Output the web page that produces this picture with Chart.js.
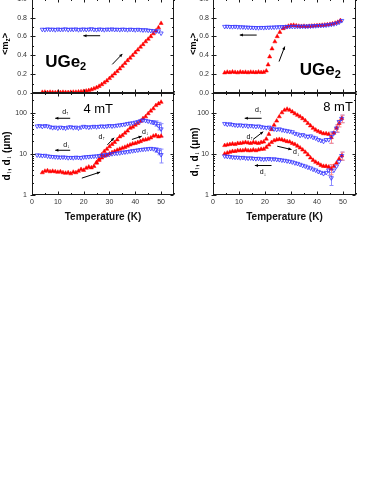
<!DOCTYPE html>
<html>
<head>
<meta charset="utf-8">
<script src="https://cdn.jsdelivr.net/npm/chart.js@4.4.1/dist/chart.umd.min.js"></script>
<style>
  body { margin: 0; background: #fff; }
  #wrap { position: relative; width: 383px; height: 495px; overflow: hidden; background: #fff; }
  canvas { position: absolute; }
</style>
</head>
<body>
<div id="wrap">
  <canvas id="mz4" width="182" height="108" style="left:0;top:-6px"></canvas>
  <canvas id="mz8" width="182" height="108" style="left:182px;top:-6px"></canvas>
  <canvas id="d4" width="182" height="144" style="left:0;top:86px"></canvas>
  <canvas id="d8" width="182" height="144" style="left:182px;top:86px"></canvas>
</div>
<script>
// <m_z> vs T and domain sizes d_up / d_down vs T, UGe2 at 4 mT (left) and 8 mT (right)

const tTicks = [0, 10, 20, 30, 40, 50]
const logTicks = [1, 10, 100]

// top left, 4 mT
const tMzCool4 = [4, 5, 6, 7, 8, 9, 10, 11, 12, 13, 14, 15, 16, 17, 18, 19, 20, 21, 22, 23, 24, 25, 26, 27, 28, 29, 30, 31, 32, 33, 34, 35, 36, 37, 38, 39, 40, 41, 42, 43, 44, 45, 46, 47, 48, 49, 50]
const mzCool4 = [0.675, 0.672, 0.678, 0.674, 0.676, 0.671, 0.677, 0.673, 0.675, 0.679, 0.672, 0.676, 0.674, 0.678, 0.671, 0.675, 0.677, 0.673, 0.676, 0.68, 0.674, 0.672, 0.677, 0.675, 0.671, 0.676, 0.674, 0.678, 0.673, 0.675, 0.672, 0.676, 0.674, 0.671, 0.675, 0.673, 0.67, 0.674, 0.671, 0.668, 0.67, 0.665, 0.662, 0.66, 0.655, 0.658, 0.635]
const tMzWarm4 = [4, 5, 6, 7, 8, 9, 10, 11, 12, 13, 14, 15, 16, 17, 18, 19, 20, 21, 22, 23, 24, 25, 26, 27, 28, 29, 30, 31, 32, 33, 34, 35, 36, 37, 38, 39, 40, 41, 42, 43, 44, 45, 46, 47, 48, 49, 50]
const mzWarm4 = [0.008, 0.01, 0.006, 0.009, 0.007, 0.005, 0.008, 0.006, 0.009, 0.007, 0.006, 0.008, 0.01, 0.009, 0.012, 0.014, 0.018, 0.022, 0.028, 0.036, 0.046, 0.058, 0.072, 0.09, 0.11, 0.13, 0.155, 0.18, 0.205, 0.23, 0.258, 0.285, 0.315, 0.345, 0.372, 0.4, 0.43, 0.458, 0.488, 0.515, 0.545, 0.572, 0.6, 0.63, 0.66, 0.695, 0.74]

// top right, 8 mT
const tMzCool8 = [4.5, 5.5, 6.5, 7.5, 8.5, 9.5, 10.5, 11.5, 12.5, 13.5, 14.5, 15.5, 16.5, 17.5, 18.5, 19.5, 20.5, 21.5, 22.5, 23.5, 24.5, 25.5, 26.5, 27.5, 28.5, 29.5, 30.5, 31.5, 32.5, 33.5, 34.5, 35.5, 36.5, 37.5, 38.5, 39.5, 40.5, 41.5, 42.5, 43.5, 44.5, 45.5, 46.5, 47.5, 48.5, 49.5]
const mzCool8 = [0.705, 0.706, 0.704, 0.703, 0.705, 0.702, 0.701, 0.7, 0.698, 0.697, 0.695, 0.694, 0.693, 0.692, 0.694, 0.693, 0.695, 0.696, 0.697, 0.698, 0.7, 0.701, 0.702, 0.703, 0.704, 0.705, 0.706, 0.705, 0.707, 0.706, 0.708, 0.707, 0.709, 0.71, 0.712, 0.713, 0.715, 0.716, 0.718, 0.72, 0.724, 0.728, 0.733, 0.74, 0.75, 0.768]
const tMzWarm8 = [4.5, 5.5, 6.5, 7.5, 8.5, 9.5, 10.5, 11.5, 12.5, 13.5, 14.5, 15.5, 16.5, 17.5, 18.5, 19.5, 20.5, 21.2, 21.8, 22.7, 23.8, 24.7, 25.7, 27, 28, 29, 30, 31, 32, 33, 34, 35, 36, 37, 38, 39, 40, 41, 42, 43, 44, 45, 46, 47, 48, 49]
const mzWarm8 = [0.215, 0.222, 0.218, 0.224, 0.22, 0.216, 0.223, 0.219, 0.221, 0.217, 0.222, 0.22, 0.218, 0.223, 0.219, 0.221, 0.235, 0.3, 0.385, 0.47, 0.545, 0.6, 0.645, 0.685, 0.7, 0.71, 0.718, 0.72, 0.714, 0.71, 0.708, 0.71, 0.706, 0.709, 0.711, 0.713, 0.716, 0.718, 0.72, 0.722, 0.726, 0.73, 0.735, 0.742, 0.752, 0.77]

// bottom left, 4 mT (um)
const tD4Cool = [2, 3, 4, 5, 6, 7, 8, 9, 10, 11, 12, 13, 14, 15, 16, 17, 18, 19, 20, 21, 22, 23, 24, 25, 26, 27, 28, 29, 30, 31, 32, 33, 34, 35, 36, 37, 38, 39, 40, 41, 42, 43, 44, 45, 46, 47, 48, 49, 50]
const dUpCool4 = [47, 48, 46, 48, 47, 45, 43, 44, 42, 44, 43, 42, 44, 45, 43, 44, 42, 44, 46, 45, 44, 45, 46, 45, 46, 47, 46, 47, 48, 47, 48, 49, 50, 51, 52, 54, 55, 56, 58, 60, 63, 66, 64, 62, 60, 58, 55, 48, 40]
const dDownCool4 = [9.3, 9.2, 9.0, 9.1, 8.8, 8.6, 8.5, 8.4, 8.3, 8.2, 8.3, 8.2, 8.0, 8.1, 8.0, 8.2, 8.1, 8.0, 8.3, 8.4, 8.5, 8.6, 8.7, 8.8, 9.0, 9.2, 9.3, 9.5, 9.7, 10.0, 10.2, 10.3, 10.5, 10.8, 11.0, 11.2, 11.5, 11.8, 12.0, 12.3, 12.6, 12.8, 13.0, 13.2, 13.4, 13.2, 12.5, 11.5, 9.5]
const tD4Warm = [4, 5, 6, 7, 8, 9, 10, 11, 12, 13, 14, 15, 16, 17, 18, 19, 20, 21, 22, 23, 24, 25, 26, 27, 28, 29, 30, 31, 32, 33, 34, 35, 36, 37, 38, 39, 40, 41, 42, 43, 44, 45, 46, 47, 48, 49, 50]
const dUpWarm4 = [3.5, 3.8, 3.9, 3.7, 3.8, 3.7, 3.6, 3.7, 3.5, 3.4, 3.5, 3.3, 3.6, 3.5, 3.8, 4.2, 4.0, 4.5, 4.8, 4.6, 5.0, 6.2, 7.5, 9.5, 11.5, 13, 15, 17, 19, 22, 26, 28, 32, 36, 42, 45, 50, 55, 62, 72, 80, 95, 110, 125, 150, 165, 180]
const tD4WarmLow = [25, 26, 27, 28, 29, 30, 31, 32, 33, 34, 35, 36, 37, 38, 39, 40, 41, 42, 43, 44, 45, 46, 47, 48, 49, 50]
const dDownWarm4 = [6.0, 7.0, 8.0, 8.8, 9.3, 10, 10.8, 11.5, 12.3, 13, 13.8, 14.5, 15.5, 16.5, 17.5, 18, 19, 20, 21.5, 22, 23, 24.5, 27, 28, 26, 27]
const errUpCool4 = { 47: 6, 48: 8, 49: 10, 50: 14 }
const errDownCool4 = { 48: 1.5, 49: 2, 50: 3.5 }

// bottom right, 8 mT (um)
const tD8 = [4.5, 5.5, 6.5, 7.5, 8.5, 9.5, 10.5, 11.5, 12.5, 13.5, 14.5, 15.5, 16.5, 17.5, 18.5, 19.5, 20.5, 21.5, 22.5, 23.5, 24.5, 25.5, 26.5, 27.5, 28.5, 29.5, 30.5, 31.5, 32.5, 33.5, 34.5, 35.5, 36.5, 37.5, 38.5, 39.5, 40.5, 41.5, 42.5, 43.5, 44.5, 45.5, 46.5, 47.5, 48.5, 49.5]
const dUpWarm8 = [16, 16.5, 17, 17.5, 17, 18, 18, 18.5, 19, 18.5, 18, 19, 18.5, 18, 19, 19.5, 23, 30, 39, 50, 63, 80, 100, 115, 122, 115, 105, 95, 87, 80, 72, 64, 55, 48, 42, 38, 35, 33, 31, 31, 30, 25, 32, 42, 55, 72]
const dDownWarm8 = [10, 10.5, 11, 11.5, 11.5, 12, 12, 12, 12.5, 12, 12, 12.5, 12, 12.5, 13, 13, 14.5, 16.5, 19, 21, 22, 22.5, 22, 21, 20, 19.5, 18, 17, 15.5, 14, 12.5, 11, 9.5, 8, 7, 6.3, 5.8, 5.3, 5, 5, 4.8, 4.3, 5, 6, 7.5, 9]
const dUpCool8 = [54, 52, 53, 51, 50, 49, 50, 48, 49, 47, 48, 47, 46, 47, 45, 44, 43, 44, 42, 40, 39, 40, 38, 37, 36, 35, 34, 31, 30, 28, 29, 27, 26, 27, 25, 24, 22, 21, 20, 22, 22, 26, 32, 42, 60, 72]
const dDownCool8 = [8.8, 8.6, 8.5, 8.3, 8.2, 8.2, 8.0, 8.1, 7.9, 7.8, 7.9, 7.7, 7.6, 7.7, 7.5, 7.4, 7.5, 7.6, 7.4, 7.5, 7.3, 7.2, 7.0, 6.9, 6.7, 6.5, 6.3, 6.0, 5.8, 5.5, 5.2, 5.0, 4.7, 4.5, 4.2, 4.0, 3.7, 3.5, 3.3, 3.5, 4.0, 2.6, 4.0, 5.0, 6.5, 9.0]
const errUpWarm8 = { 45.5: 7, 47.5: 8, 48.5: 10, 49.5: 15 }
const errDownWarm8 = { 45.5: 1.2, 49.5: 2 }
const errUpCool8 = { 45.5: 8, 47.5: 9, 49.5: 15 }
const errDownCool8 = { 44.5: 1, 45.5: 0.9, 49.5: 2 }

const FONT = "'Liberation Sans', Arial, sans-serif"
const F = (size, bold) => (bold ? 'bold ' : '') + size + 'px ' + FONT

const UGE = [['UGe', F(17, true), 0], ['2', F(11, true), 5]]
const D_UP = [['d', F(7), 0], ['\u2191', F(5), 2]]
const D_DN = [['d', F(7), 0], ['\u2193', F(5), 2]]
const MZ = [['<m', F(9, true), 0], ['z', F(6.5, true), 2], ['>', F(9, true), 0]]
const DT = [['d', F(10, true), 0], ['\u2191', F(7, true), 2.5], [', d', F(10, true), 0], ['\u2193', F(7, true), 2.5], [' (\u03bcm)', F(10, true), 0]]

const pts = (xs, ys) => xs.map((x, i) => ({ x: x, y: ys[i] }))

const red = (xs, ys, errs) => ({
  data: pts(xs, ys), errs: errs, errColor: '#ff8c8c',
  pointStyle: 'triangle', pointRadius: 2.4,
  backgroundColor: '#ff0000', borderColor: '#ff0000', borderWidth: 0.5
})
const blue = (xs, ys, errs) => ({
  data: pts(xs, ys), errs: errs, errColor: '#8c8cff',
  pointStyle: 'triangle', rotation: 180, pointRadius: 2.4,
  backgroundColor: 'rgba(255,255,255,0)', borderColor: '#3535ff', borderWidth: 0.8
})

function richWidth(ctx, parts) {
  let w = 0
  parts.forEach(p => { ctx.font = p[1]; w += ctx.measureText(p[0]).width })
  return w
}
function drawRich(ctx, parts, x, y, center) {
  let cx = center ? x - richWidth(ctx, parts) / 2 : x
  ctx.textBaseline = 'middle'
  ctx.textAlign = 'left'
  parts.forEach(p => {
    ctx.font = p[1]
    ctx.fillText(p[0], cx, y + p[2])
    cx += ctx.measureText(p[0]).width
  })
}
function arrow(ctx, x1, y1, x2, y2) {
  const ang = Math.atan2(y2 - y1, x2 - x1)
  const h = 3.5
  ctx.beginPath()
  ctx.moveTo(x1, y1)
  ctx.lineTo(x2, y2)
  ctx.stroke()
  ctx.beginPath()
  ctx.moveTo(x2, y2)
  ctx.lineTo(x2 - h * Math.cos(ang - 0.45), y2 - h * Math.sin(ang - 0.45))
  ctx.lineTo(x2 - h * Math.cos(ang + 0.45), y2 - h * Math.sin(ang + 0.45))
  ctx.closePath()
  ctx.fill()
}

// box round the plot with small inward ticks
const frame = {
  id: 'frame',
  afterDatasetsDraw(chart) {
    const { ctx, chartArea: a, scales: { x, y } } = chart
    const L = Math.round(a.left) + 0.5, R = Math.round(a.right) - 0.5
    const T = Math.round(a.top) + 0.5, B = Math.round(a.bottom) - 0.5
    ctx.save()
    ctx.strokeStyle = '#1a1a1a'
    ctx.lineWidth = 1
    ctx.strokeRect(L, T, R - L, B - T)
    ctx.beginPath()
    for (let t = 0; t <= 55; t += 5) {
      const px = Math.round(x.getPixelForValue(t)) + 0.5
      const len = t % 10 === 0 ? 3 : 1.5
      ctx.moveTo(px, B); ctx.lineTo(px, B - len)
      ctx.moveTo(px, T); ctx.lineTo(px, T + len)
    }
    const yt = []
    if (y.type === 'logarithmic') {
      logTicks.forEach(d => { for (let m = 1; m < 10; m++) if (m * d <= y.max) yt.push([m * d, m === 1]) })
    } else {
      for (let i = 0; i <= 10; i++) yt.push([i / 10, i % 2 === 0])
    }
    yt.forEach(([v, major]) => {
      const py = Math.round(y.getPixelForValue(v)) + 0.5
      const len = major ? 3 : 1.5
      ctx.moveTo(L - (major ? 2 : 0), py); ctx.lineTo(L + len, py)
      ctx.moveTo(R, py); ctx.lineTo(R - len, py)
    })
    ctx.stroke()
    ctx.restore()
  }
}

function notes(o) {
  return {
    id: 'notes',
    beforeDatasetsDraw(chart) {
      const { ctx, scales: { x, y } } = chart
      ctx.save()
      ctx.lineWidth = 1
      chart.data.datasets.forEach(ds => {
        if (!ds.errs) return
        ctx.strokeStyle = ds.errColor
        ctx.beginPath()
        ds.data.forEach(p => {
          const e = ds.errs[p.x]
          if (!e) return
          const px = Math.round(x.getPixelForValue(p.x)) + 0.5
          const lo = y.getPixelForValue(Math.max(p.y - e, 1.05))
          const hi = y.getPixelForValue(p.y + e)
          ctx.moveTo(px, lo); ctx.lineTo(px, hi)
          ctx.moveTo(px - 2, lo); ctx.lineTo(px + 2, lo)
          ctx.moveTo(px - 2, hi); ctx.lineTo(px + 2, hi)
        })
        ctx.stroke()
      })
      ctx.restore()
    },
    afterDraw(chart) {
      const { ctx, chartArea: a, scales: { x, y } } = chart
      ctx.save()
      ctx.strokeStyle = '#000'
      ctx.fillStyle = '#000'
      ctx.lineWidth = 1
      o.arrows.forEach(([x1, y1, x2, y2]) => arrow(ctx, x.getPixelForValue(x1), y.getPixelForValue(y1), x.getPixelForValue(x2), y.getPixelForValue(y2)))
      o.texts.forEach(([tx, ty, parts]) => drawRich(ctx, parts, x.getPixelForValue(tx), y.getPixelForValue(ty), false))
      ctx.translate(o.titleX, (a.top + a.bottom) / 2 + o.titleDy)
      ctx.rotate(-Math.PI / 2)
      drawRich(ctx, o.title, 0, 0, true)
      ctx.restore()
    }
  }
}

function fitY(w) {
  return s => { s.width = w; s.paddingTop = 0; s.paddingBottom = 0; s.paddingLeft = 0; s.paddingRight = 0 }
}

function panel(id, sets, o) {
  const tickFont = { family: FONT, size: 7 }
  const yScale = o.log ? {
    type: 'logarithmic', min: 1, max: 300,
    afterBuildTicks: s => { s.ticks = logTicks.map(v => ({ value: v })) },
    ticks: { callback: v => String(v), font: tickFont, color: '#333', padding: o.tickPad }
  } : {
    type: 'linear', min: 0, max: 1,
    ticks: { stepSize: 0.2, callback: v => v.toFixed(1), font: tickFont, color: '#333', padding: o.tickPad }
  }
  yScale.afterFit = fitY(o.yw)
  yScale.grid = { display: false, drawTicks: false }
  yScale.border = { display: false }

  return new Chart(document.getElementById(id), {
    type: 'scatter',
    data: { datasets: sets },
    options: {
      responsive: false,
      animation: false,
      events: [],
      layout: { padding: { left: 0, right: 8, top: o.top, bottom: o.bottom } },
      plugins: { legend: { display: false }, tooltip: { enabled: false } },
      scales: {
        x: {
          type: 'linear', min: 0, max: 55, display: o.xAxis,
          afterBuildTicks: s => { s.ticks = tTicks.map(v => ({ value: v })) },
          afterFit: s => {
            s.height = o.xAxis ? 35 : 0
            s.paddingLeft = 0
            s.paddingRight = 0
          },
          grid: { display: false, drawTicks: false },
          border: { display: false },
          ticks: { font: tickFont, color: '#333', padding: 3, maxRotation: 0 },
          title: { display: true, text: 'Temperature (K)', color: '#111', font: { family: FONT, size: 10, weight: 'bold' }, padding: { top: 0, bottom: 7 } }
        },
        y: yScale
      }
    },
    plugins: [frame, notes(o)]
  })
}

panel('mz4', [blue(tMzCool4, mzCool4), red(tMzWarm4, mzWarm4)], {
  log: false, xAxis: false, top: 0, bottom: 9, yw: 32, tickPad: 5,
  title: MZ, titleX: 6, titleDy: -2,
  texts: [[5.1, 0.33, UGE]],
  arrows: [[26.4, 0.608, 19.9, 0.608], [31.1, 0.304, 35, 0.415]]
})

panel('mz8', [blue(tMzCool8, mzCool8), red(tMzWarm8, mzWarm8)], {
  log: false, xAxis: false, top: 0, bottom: 9, yw: 31, tickPad: 4,
  title: MZ, titleX: 12, titleDy: -2,
  texts: [[33.4, 0.243, UGE]],
  arrows: [[16.8, 0.615, 10.3, 0.615], [25.4, 0.334, 27.6, 0.493]]
})

panel('d4', [
  blue(tD4Cool, dUpCool4, errUpCool4), blue(tD4Cool, dDownCool4, errDownCool4),
  red(tD4Warm, dUpWarm4), red(tD4WarmLow, dDownWarm4)
], {
  log: true, xAxis: true, top: 7, bottom: 0, yw: 32, tickPad: 5,
  title: DT, titleX: 7, titleDy: 12,
  texts: [[19.9, 121, [['4 mT', F(13), 0]]], [11.7, 105, D_UP], [12.1, 16.3, D_DN], [25.8, 26, D_UP], [42.6, 34, D_DN]],
  arrows: [[14.8, 73, 9, 73], [14.8, 12.2, 9, 12.2], [29.2, 16.5, 31.8, 24.5], [38.7, 22.3, 42.5, 26.8], [19.3, 2.57, 26.4, 3.6]]
})

panel('d8', [
  blue(tD8, dUpCool8, errUpCool8), blue(tD8, dDownCool8, errDownCool8),
  red(tD8, dUpWarm8, errUpWarm8), red(tD8, dDownWarm8, errDownWarm8)
], {
  log: true, xAxis: true, top: 7, bottom: 0, yw: 31, tickPad: 4,
  title: DT, titleX: 13, titleDy: 8,
  texts: [[42.4, 135, [['8 mT', F(13), 0]]], [16.2, 114, D_UP], [12.9, 25.6, D_UP], [30.8, 10.8, D_DN], [18, 3.55, D_DN]],
  arrows: [[18.7, 73, 12.2, 73], [15.4, 22.3, 19.3, 34.4], [24.7, 15.3, 30.2, 12.7], [22.5, 5.2, 16.1, 5.2]]
})
</script>
</body>
</html>
